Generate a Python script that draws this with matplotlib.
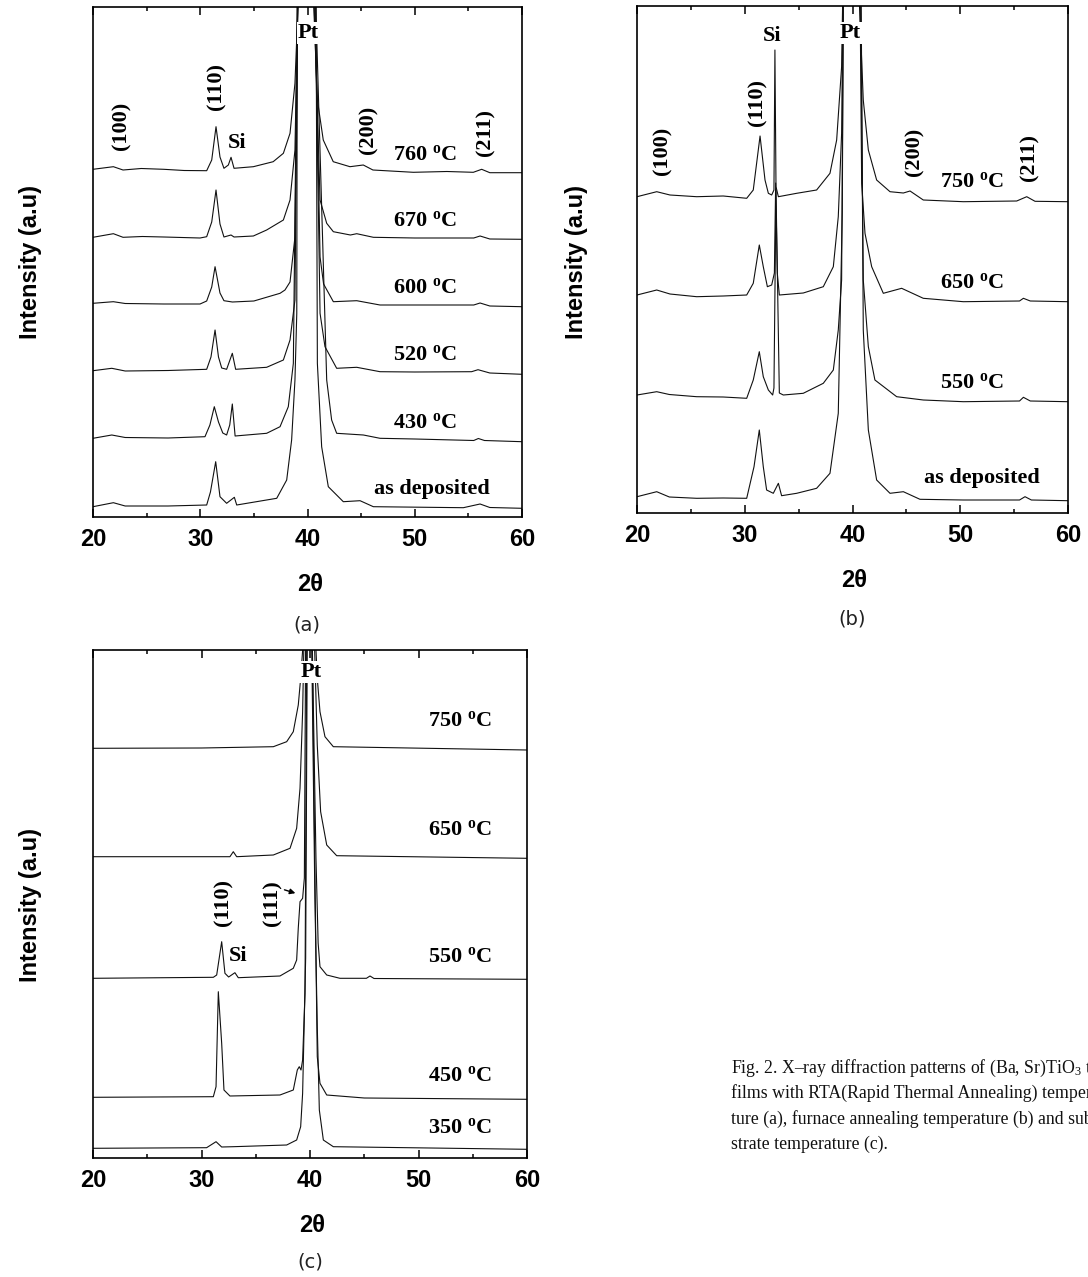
import matplotlib
matplotlib.use("Agg")
import matplotlib.pyplot as plt
from matplotlib.ticker import MultipleLocator

plt.rcParams['mathtext.fontset'] = 'custom'
plt.rcParams['mathtext.rm'] = 'Liberation Serif'
plt.rcParams['mathtext.bf'] = 'Liberation Serif:bold'
plt.rcParams['mathtext.it'] = 'Liberation Serif:italic'

#####################################
# traces: (2theta, intensity a.u.)
# Pt(111) peak is far off scale, apex kept above the frame

# ---- (a) RTA temperature
a_760 = [(20.0, 347.7), (21.9, 350.3), (22.8, 347), (24.5, 348.5), (26.6, 347.7), (28.5, 346.5),
         (30.6, 346.3), (31.07, 357), (31.47, 390.3), (31.84, 360), (32.21, 348.7), (32.62, 352),
         (32.87, 359.7), (33.15, 348.7), (34.95, 350.3), (36.8, 355.3), (37.75, 363.7), (38.37, 383.7),
         (38.83, 433.7), (39.15, 520), (39.8, 1500), (40.55, 520), (40.92, 417), (41.47, 377),
         (42.4, 355.3), (43.96, 350.3), (45.2, 352), (46.1, 347), (49.87, 344.7), (53, 345.5),
         (55.46, 344.7), (56.24, 347.7), (57.0, 344.3), (60.0, 344.3)]
a_670 = [(20.0, 279.7), (21.9, 283.3), (22.8, 279.7), (24.6, 280.5), (26.6, 280), (29.98, 279),
         (30.6, 280.3), (31.07, 295), (31.47, 327), (31.84, 293), (32.21, 280), (32.87, 282),
         (33.15, 280), (34.95, 281), (36.19, 287), (37.75, 297), (38.37, 317), (38.83, 367),
         (39.1, 520), (39.8, 1500), (40.6, 520), (41.17, 317), (41.79, 293.7), (42.41, 285.3),
         (44.0, 282), (44.59, 283.3), (46.14, 279.7), (50.0, 279), (55.5, 279), (56.09, 281),
         (57.0, 278), (60.0, 277.7)]
a_600 = [(20.0, 213.7), (21.9, 215.3), (23.0, 213.5), (26.6, 213), (29.98, 213), (30.6, 216),
         (31.07, 230), (31.38, 250.3), (31.84, 224), (32.21, 216.3), (33.0, 215), (35.0, 216),
         (37.44, 223.7), (37.9, 227), (38.37, 235), (38.83, 280), (39.1, 520), (39.8, 1500),
         (40.7, 520), (41.17, 260), (41.5, 233), (42.41, 215.3), (44.59, 216.3), (46.76, 212),
         (50.0, 212), (55.5, 212), (56.09, 214), (57.0, 211), (60.0, 210.3)]
a_520 = [(20.0, 146.3), (21.75, 148.7), (23.0, 146), (27.0, 146.5), (30.6, 147.7), (31.0, 160),
         (31.38, 187), (31.7, 160), (32.0, 149), (32.46, 147.7), (32.99, 163.7), (33.3, 147.7),
         (36.19, 149.7), (37.75, 157), (38.37, 177), (38.83, 217), (39.1, 520), (39.8, 1500),
         (40.7, 520), (41.17, 203.7), (41.63, 170.3), (42.72, 148.7), (44.59, 149.7), (46.76, 145.3),
         (50.0, 145), (55.3, 145.3), (55.9, 147.3), (57.0, 144), (60.0, 142.7)]
a_430 = [(20.0, 78.7), (21.75, 82), (23.0, 79.5), (27.0, 79), (30.44, 80.3), (30.9, 92),
         (31.31, 110.3), (31.7, 95), (32.1, 84), (32.46, 82), (32.75, 92), (32.99, 113),
         (33.25, 81), (36.19, 83.7), (37.44, 90.3), (38.21, 110.3), (38.68, 153.7), (39.05, 520),
         (39.8, 1500), (40.75, 520), (41.79, 137), (42.25, 97), (42.72, 83.7), (45.21, 82),
         (46.76, 78.7), (50.0, 78), (55.5, 76.5), (55.93, 78.5), (56.5, 76.5), (60.0, 75.3)]
a_dep = [(20.0, 10.3), (21.9, 14.3), (23.0, 11), (27.0, 11), (30.6, 12), (30.95, 25),
         (31.44, 55.3), (31.84, 20.3), (32.46, 13.7), (33.18, 19.7), (33.4, 12), (37.13, 18.7),
         (38.06, 37), (38.52, 77), (38.83, 137), (39.0, 203.7), (39.05, 520), (39.8, 1500),
         (40.8, 520), (40.92, 153.7), (41.32, 70.3), (41.94, 30.3), (43.34, 15.3), (44.9, 16.3),
         (46.14, 10.3), (54.53, 9.3), (56.09, 13), (57.0, 9.5), (60.0, 8.7)]

# ---- (b) furnace annealing temperature
b_750 = [(20.0, 316.3), (21.83, 321.3), (23.06, 318), (25.54, 316.3), (28.0, 317), (30.18, 314.7),
         (30.79, 323), (31.42, 377), (31.88, 333), (32.19, 319.7), (32.5, 318), (32.71, 323),
         (32.8, 463), (32.9, 326.3), (33.12, 316.3), (34.82, 319.7), (36.67, 323), (37.91, 339.7),
         (38.53, 373), (38.99, 446.3), (39.1, 520), (39.8, 1500), (40.6, 520), (41.0, 413),
         (41.47, 363), (42.24, 333), (43.48, 321.3), (44.72, 320), (45.34, 322), (46.57, 313),
         (50.29, 311.3), (55.24, 312), (56.17, 316.3), (56.94, 311.7), (60.0, 311.3)]
b_650 = [(20.0, 218), (21.83, 223), (23.06, 219), (25.54, 216.3), (28.0, 217), (30.18, 218),
         (30.79, 229.7), (31.35, 268), (31.72, 246.3), (32.1, 226.3), (32.5, 228), (32.75, 240),
         (32.87, 330), (33.02, 240), (33.21, 218), (35.43, 220), (37.29, 226.3), (38.22, 246.3),
         (38.68, 296.3), (38.99, 379.7), (39.12, 520), (39.8, 1500), (40.7, 520), (40.85, 329.7),
         (41.16, 279.7), (41.78, 246.3), (42.86, 219.7), (44.56, 224.7), (46.57, 214.7),
         (50.29, 211.3), (55.5, 212), (55.86, 214.7), (56.5, 212), (60.0, 211.3)]
b_550 = [(20.0, 118), (21.83, 121.3), (23.0, 118.5), (25.54, 116.3), (28.0, 116), (30.18, 114.7),
         (30.79, 133), (31.35, 161.3), (31.72, 136.3), (32.19, 123), (32.59, 118), (32.71, 125),
         (32.9, 323), (33.21, 120), (33.58, 118), (35.43, 119.7), (37.29, 129.7), (38.22, 143),
         (38.68, 183), (38.99, 233), (39.15, 520), (39.8, 1500), (40.75, 520), (41.0, 233),
         (41.47, 166.3), (42.08, 133), (44.1, 116.3), (46.57, 113), (50.29, 111.3), (55.5, 112),
         (55.86, 115.7), (56.5, 112), (60.0, 111.3)]
b_dep = [(20.0, 16.3), (21.83, 21.3), (23.0, 16), (25.54, 14.7), (28.0, 15), (30.18, 14.7),
         (30.86, 46.3), (31.35, 83), (31.72, 46.3), (32.03, 23), (32.65, 19.7), (33.12, 29.7),
         (33.42, 17.3), (34.82, 19.7), (36.67, 24.7), (37.91, 39.7), (38.68, 99.7), (39.05, 300),
         (39.15, 520), (39.8, 1500), (40.8, 520), (41.0, 183), (41.47, 83), (42.24, 33),
         (43.48, 19.7), (44.72, 21.3), (46.26, 13.7), (50.29, 13), (55.5, 13), (56.01, 16.3),
         (56.6, 13), (60.0, 12.3)]

# ---- (c) substrate temperature
c_750 = [(20.0, 409.7), (30.0, 410), (36.62, 411.3), (37.85, 416.3), (38.46, 426.3), (38.92, 453),
         (39.14, 479.7), (39.4, 520), (39.9, 1500), (40.5, 520), (40.67, 479.7), (40.92, 446.3),
         (41.38, 421.3), (42.15, 411.3), (60.0, 408)]
c_650 = [(20.0, 301.3), (32.62, 301.3), (32.93, 306.3), (33.24, 301.3), (36.62, 303), (38.16, 309.7),
         (38.77, 329.7), (39.08, 369.7), (39.32, 446.3), (39.45, 520), (39.9, 1500), (40.4, 520),
         (40.67, 413), (40.98, 346.3), (41.54, 313), (42.46, 302.3), (60.0, 299.7)]
c_550 = [(20.0, 179.7), (31.09, 180.7), (31.4, 183), (31.86, 216.3), (32.16, 184.7), (32.5, 181),
         (33.08, 185.3), (33.39, 180.3), (37.23, 182), (38.46, 189.7), (38.77, 198), (38.92, 230),
         (39.08, 256.3), (39.32, 259.7), (39.48, 280), (39.6, 520), (39.9, 1500), (40.2, 520),
         (40.55, 300), (40.75, 215), (40.92, 191.3), (41.54, 183), (42.76, 179.7), (45.2, 179.7),
         (45.53, 182), (45.9, 179.5), (60.0, 178.7)]
c_450 = [(20.0, 60.7), (31.09, 61.3), (31.34, 71.3), (31.55, 166.3), (31.86, 114.7), (32.07, 68),
         (32.62, 62), (37.23, 63), (38.46, 68), (38.83, 88), (39.01, 91.3), (39.17, 88), (39.32, 98),
         (39.54, 164.7), (39.7, 520), (39.9, 1500), (40.2, 520), (40.55, 200), (40.67, 101.3),
         (40.92, 74.7), (41.54, 63), (45.0, 60), (60.0, 58.7)]
c_350 = [(20.0, 9.7), (30.47, 10.3), (31.34, 16.3), (31.86, 11), (32.93, 11.3), (37.85, 13),
         (38.77, 18), (39.14, 31.3), (39.32, 64.7), (39.6, 200), (39.75, 520), (39.9, 1500),
         (40.15, 520), (40.45, 260), (40.67, 131.3), (40.86, 48), (41.23, 18), (42.15, 11.3),
         (60.0, 8.7)]

traces_a = [a_760, a_670, a_600, a_520, a_430, a_dep]
traces_b = [b_750, b_650, b_550, b_dep]
traces_c = [c_750, c_650, c_550, c_450, c_350]

temps_a = ["760", "670", "600", "520", "430", "as deposited"]
temps_b = ["750", "650", "550", "as deposited"]
temps_c = ["750", "650", "550", "450", "350"]

xticks = [20, 30, 40, 50, 60]

####################################

W, H = 1088, 1277
SERIF = "Liberation Serif"
SANS = "Liberation Sans"


def fx(x):
    return x / W


def fy(y):
    return 1 - y / H


def temp_text(t):
    if t.startswith("as"):
        return t
    return t + r" $^{\mathbf{o}}$C"


def make_panel(fig, rect, traces, ymax):
    ax = fig.add_axes(rect)
    for tr in traces:
        xs = [p[0] for p in tr]
        ys = [p[1] for p in tr]
        ax.plot(xs, ys, color="#111111", lw=0.8)
    ax.set_xlim(20, 60)
    ax.set_ylim(0, ymax)
    ax.set_yticks([])
    ax.set_xticks(xticks)
    ax.xaxis.set_minor_locator(MultipleLocator(5))
    ax.tick_params(axis="x", which="both", direction="in", top=True, width=1.1)
    ax.tick_params(axis="x", which="major", length=6, pad=8)
    ax.tick_params(axis="x", which="minor", length=3)
    for lab in ax.get_xticklabels():
        lab.set_fontfamily(SANS)
        lab.set_fontweight("bold")
        lab.set_fontsize(17)
    for sp in ax.spines.values():
        sp.set_linewidth(1.2)
    return ax


def lab(ax, x, y, s, rot=0, size=16, **kw):
    ax.text(x, y, s, rotation=rot, ha="center", va="center", family=SERIF,
            fontweight="bold", fontsize=size, **kw)


fig = plt.figure(figsize=(W / 100, H / 100), dpi=100)

ax_a = make_panel(fig, [93 / W, (H - 517) / H, 429 / W, 510 / H], traces_a, 510)
ax_b = make_panel(fig, [637 / W, (H - 513) / H, 431 / W, 507 / H], traces_b, 507)
ax_c = make_panel(fig, [93 / W, (H - 1158) / H, 434 / W, 508 / H], traces_c, 508)

# (a)
for t, y in zip(temps_a, [362, 296, 229, 162, 94, 28]):
    lab(ax_a, 51.6 if t.startswith("as") else 50.96, y, temp_text(t))
lab(ax_a, 22.61, 391, "(100)", rot=90)
lab(ax_a, 31.56, 430, "(110)", rot=90)
lab(ax_a, 33.43, 374, "Si")
lab(ax_a, 45.64, 387, "(200)", rot=90)
lab(ax_a, 56.64, 385, "(211)", rot=90)
lab(ax_a, 40.1, 484, "Pt", bbox=dict(facecolor="white", edgecolor="none", pad=1))

# (b)
for t, y in zip(temps_b, [331, 230, 130, 35]):
    lab(ax_b, 52.02 if t.startswith("as") else 51.09, y, temp_text(t))
lab(ax_b, 22.32, 362, "(100)", rot=90)
lab(ax_b, 31.14, 411, "(110)", rot=90)
lab(ax_b, 32.53, 477, "Si")
lab(ax_b, 45.71, 361, "(200)", rot=90)
lab(ax_b, 56.38, 356, "(211)", rot=90)
lab(ax_b, 39.77, 480, "Pt", bbox=dict(facecolor="white", edgecolor="none", pad=1))

# (c)
for t, y in zip(temps_c, [437, 328, 201, 82, 30]):
    lab(ax_c, 53.8, y, temp_text(t))
lab(ax_c, 32.07, 255, "(110)", rot=90)
lab(ax_c, 36.5, 255, "(111)", rot=90)
lab(ax_c, 33.36, 202, "Si")
lab(ax_c, 40.09, 486, "Pt", bbox=dict(facecolor="white", edgecolor="none", pad=1))
ax_c.annotate("", xy=(38.9, 264), xytext=(37.4, 269),
              arrowprops=dict(arrowstyle="-|>", color="black", lw=1.0, mutation_scale=8))

# axis titles and panel letters
for xc, yc in [(310, 584), (854, 580), (312, 1226)]:
    fig.text(fx(xc), fy(yc), "2θ", ha="center", va="center", family=SANS,
             fontweight="bold", fontsize=17)
for xc, yc in [(31, 262), (577, 262), (31, 905)]:
    fig.text(fx(xc), fy(yc), "Intensity (a.u)", ha="center", va="center", rotation=90,
             family=SANS, fontweight="bold", fontsize=17)
for xc, yc, s in [(307, 625, "(a)"), (852, 619, "(b)"), (310, 1262, "(c)")]:
    fig.text(fx(xc), fy(yc), s, ha="center", va="center", family="DejaVu Sans",
             fontsize=14, color="#222222")

# caption (runs past the right edge, as in the scanned page)
caption = ["Fig. 2. X–ray diffraction patterns of (Ba, Sr)TiO$_3$ thin",
           "films with RTA(Rapid Thermal Annealing) tempera-",
           "ture (a), furnace annealing temperature (b) and sub-",
           "strate temperature (c)."]
for i, line in enumerate(caption):
    fig.text(fx(731), fy(1068 + 25.5 * i), line, ha="left", va="center", family=SERIF,
             fontsize=12.8, color="#111111")

fig.savefig("out.png", dpi=100)
